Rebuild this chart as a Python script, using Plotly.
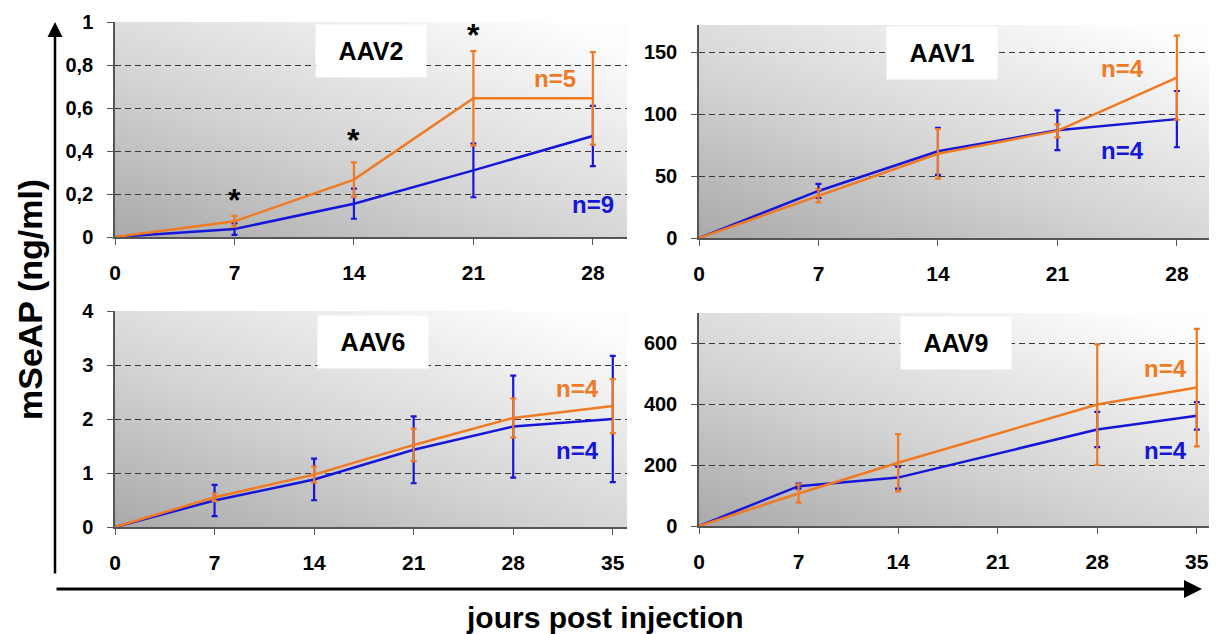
import base64
import plotly.graph_objects as go

# days post injection
days_aav2 = [0, 7, 14, 21, 28]
days_aav1 = [0, 7, 14, 21, 28]
days_aav6 = [0, 7, 14, 21, 28, 35]
days_aav9 = [0, 7, 14, 28, 35]

# mSeAP values (orange / blue groups) with error
aav2_orange = [0, 0.073, 0.267, 0.645, 0.645]
aav2_orange_err = [0, 0.025, 0.08, 0.22, 0.215]
aav2_blue = [0, 0.037, 0.155, 0.31, 0.47]
aav2_blue_err = [0, 0.027, 0.07, 0.125, 0.14]

aav1_orange = [0, 34, 68, 86.5, 129.5]
aav1_orange_err = [0, 5.3, 20, 5.3, 34]
aav1_blue = [0, 38, 70, 87, 96]
aav1_blue_err = [0, 5.7, 19, 16, 22.7]

aav6_orange = [0, 0.55, 0.97, 1.52, 2.02, 2.24]
aav6_orange_err = [0, 0.07, 0.15, 0.3, 0.36, 0.5]
aav6_blue = [0, 0.49, 0.88, 1.43, 1.86, 2.0]
aav6_blue_err = [0, 0.29, 0.385, 0.62, 0.945, 1.17]

aav9_orange = [0, 107, 208, 399, 455]
aav9_orange_err = [0, 30, 94, 198, 193]
aav9_blue = [0, 131, 159, 317, 362]
aav9_blue_err = [0, 8, 36, 58, 45]

# significance stars (AAV2)
star_days = [7, 14, 21]
star_y = [0.17, 0.45, 0.94]

# tick labels
aav2_yticks = [0, 0.2, 0.4, 0.6, 0.8, 1]
aav2_yticktext = ["0", "0,2", "0,4", "0,6", "0,8", "1"]
aav1_yticks = [0, 50, 100, 150]
aav6_yticks = [0, 1, 2, 3, 4]
aav9_yticks = [0, 200, 400, 600]
xticks_28 = [0, 7, 14, 21, 28]
xticks_35 = [0, 7, 14, 21, 28, 35]

ORANGE = "#f07a24"
BLUE = "#1616d8"
SANS = "Liberation Sans, Arial, sans-serif"

# page body adds an 8px margin, so the figure is drawn 8px smaller
OFF = 8
W, H = 1217 - OFF, 634 - OFF


def px(x):
    return (x - OFF) / W


def py(y):
    return 1 - (y - OFF) / H


# panel boxes in screen pixels: left, right, top, bottom
panels = {
    "AAV2": (115, 627, 22, 237),
    "AAV1": (699, 1211, 25, 238),
    "AAV6": (115, 627, 311, 527),
    "AAV9": (699, 1211, 313, 526),
}

svg = ('<svg xmlns="http://www.w3.org/2000/svg" width="200" height="100" '
       'viewBox="0 0 200 100" preserveAspectRatio="none">'
       '<defs><linearGradient id="g" x1="0" y1="1" x2="0.85" y2="0">'
       '<stop offset="0" stop-color="#a9a9a9"/><stop offset="0.45" stop-color="#d4d4d4"/>'
       '<stop offset="1" stop-color="#fdfdfd"/>'
       '</linearGradient></defs><rect width="200" height="100" fill="url(#g)"/></svg>')
bg_src = "data:image/svg+xml;base64," + base64.b64encode(svg.encode()).decode()

fig = go.Figure()

datasets = [
    ("x", "y", days_aav2, aav2_blue, aav2_blue_err, aav2_orange, aav2_orange_err),
    ("x2", "y2", days_aav1, aav1_blue, aav1_blue_err, aav1_orange, aav1_orange_err),
    ("x3", "y3", days_aav6, aav6_blue, aav6_blue_err, aav6_orange, aav6_orange_err),
    ("x4", "y4", days_aav9, aav9_blue, aav9_blue_err, aav9_orange, aav9_orange_err),
]

for xa, ya, d, b, be, o, oe in datasets:
    fig.add_trace(go.Scatter(
        x=d, y=b, xaxis=xa, yaxis=ya, mode="lines", showlegend=False,
        line=dict(color=BLUE, width=2.5),
        error_y=dict(type="data", array=be, color=BLUE, thickness=2.2, width=3),
    ))
    fig.add_trace(go.Scatter(
        x=d, y=o, xaxis=xa, yaxis=ya, mode="lines", showlegend=False,
        line=dict(color=ORANGE, width=2.5),
        error_y=dict(type="data", array=oe, color=ORANGE, thickness=2.2, width=3),
    ))


def xaxis(dom, rng, ticks, anchor):
    return dict(domain=dom, range=rng, tickvals=ticks, showgrid=False, zeroline=False,
                anchor=anchor, automargin=False,
                showline=True, linecolor="#555555", linewidth=1.5,
                ticks="outside", ticklen=6, tickcolor="#555555",
                ticklabelstandoff=10,
                tickfont=dict(family=SANS, size=21, color="black", weight="bold"))


def yaxis(dom, rng, ticks, anchor, text=None):
    d = dict(domain=dom, range=rng, tickvals=ticks, showgrid=True, gridcolor="#3a3a3a",
             gridwidth=1, griddash="6px,4px", zeroline=False,
             anchor=anchor, automargin=False,
             showline=True, linecolor="#555555", linewidth=1.5,
             ticks="outside", ticklen=6, tickcolor="#555555",
             ticklabelstandoff=10,
             tickfont=dict(family=SANS, size=20, color="black", weight="bold"))
    if text is not None:
        d["ticktext"] = text
    return d


def xdom(p):
    return [px(p[0]), px(p[1])]


def ydom(p):
    return [py(p[3]), py(p[2])]


fig.update_layout(
    template="none",
    width=W, height=H,
    margin=dict(l=0, r=0, t=0, b=0, autoexpand=False),
    paper_bgcolor="white",
    plot_bgcolor="rgba(0,0,0,0)",
    xaxis=xaxis(xdom(panels["AAV2"]), [0, 30], xticks_28, "y"),
    yaxis=yaxis(ydom(panels["AAV2"]), [0, 1], aav2_yticks, "x", aav2_yticktext),
    xaxis2=xaxis(xdom(panels["AAV1"]), [0, 30], xticks_28, "y2"),
    yaxis2=yaxis(ydom(panels["AAV1"]), [0, 172], aav1_yticks, "x2"),
    xaxis3=xaxis(xdom(panels["AAV6"]), [0, 36], xticks_35, "y3"),
    yaxis3=yaxis(ydom(panels["AAV6"]), [0, 4], aav6_yticks, "x3"),
    xaxis4=xaxis(xdom(panels["AAV9"]), [0, 36], xticks_35, "y4"),
    yaxis4=yaxis(ydom(panels["AAV9"]), [0, 700], aav9_yticks, "x4"),
)

# gradient backgrounds
for xa in ["x", "x2", "x3", "x4"]:
    ya = xa.replace("x", "y")
    fig.add_layout_image(dict(source=bg_src, xref=xa + " domain", yref=ya + " domain",
                              x=0, y=1, sizex=1, sizey=1, sizing="stretch",
                              xanchor="left", yanchor="top", layer="below"))

# title boxes
titles = [("AAV2", "x", "y", 0.5, 0.865), ("AAV1", "x2", "y2", 0.474, 0.87),
          ("AAV6", "x3", "y3", 0.503, 0.856), ("AAV9", "x4", "y4", 0.501, 0.86)]
for t, xa, ya, cx, cy in titles:
    fig.add_annotation(text="<b>%s</b>" % t, xref=xa + " domain", yref=ya + " domain",
                       x=cx, y=cy, xanchor="center", yanchor="middle",
                       showarrow=False, bgcolor="white", width=108, height=50,
                       font=dict(family=SANS, size=25, color="black"))

# n labels
nlabels = [
    ("n=5", "x", "y", 25.8, 0.735, ORANGE), ("n=9", "x", "y", 28, 0.152, BLUE),
    ("n=4", "x2", "y2", 24.8, 137, ORANGE), ("n=4", "x2", "y2", 24.8, 71, BLUE),
    ("n=4", "x3", "y3", 32.5, 2.56, ORANGE), ("n=4", "x3", "y3", 32.5, 1.42, BLUE),
    ("n=4", "x4", "y4", 32.8, 518, ORANGE), ("n=4", "x4", "y4", 32.8, 248, BLUE),
]
for t, xa, ya, x, y, c in nlabels:
    fig.add_annotation(text="<b>%s</b>" % t, xref=xa, yref=ya, x=x, y=y,
                       xanchor="center", yanchor="middle", showarrow=False,
                       font=dict(family=SANS, size=24, color=c))

for x, y in zip(star_days, star_y):
    fig.add_annotation(text="<b>*</b>", xref="x", yref="y", x=x, y=y,
                       xanchor="center", yanchor="middle", showarrow=False,
                       font=dict(family=SANS, size=32, color="black"))

# big axis arrows
fig.add_annotation(text="", xref="paper", yref="paper", x=px(55), y=py(22),
                   ax=0, ay=553, showarrow=True, arrowhead=2, arrowsize=1.2,
                   arrowwidth=2.5, arrowcolor="black", standoff=0)
fig.add_annotation(text="", xref="paper", yref="paper", x=px(1202), y=py(589),
                   ax=-1147, ay=0, showarrow=True, arrowhead=2, arrowsize=1.2,
                   arrowwidth=3, arrowcolor="black", standoff=0)

fig.add_annotation(text="<b>mSeAP (ng/ml)</b>", xref="paper", yref="paper",
                   x=px(30), y=py(300), xanchor="center", yanchor="middle",
                   showarrow=False, textangle=-90,
                   font=dict(family=SANS, size=34, color="black"))
fig.add_annotation(text="<b>jours post injection</b>", xref="paper", yref="paper",
                   x=px(605), y=py(617), xanchor="center", yanchor="middle",
                   showarrow=False,
                   font=dict(family=SANS, size=30, color="black"))

fig.write_html("out.html")
